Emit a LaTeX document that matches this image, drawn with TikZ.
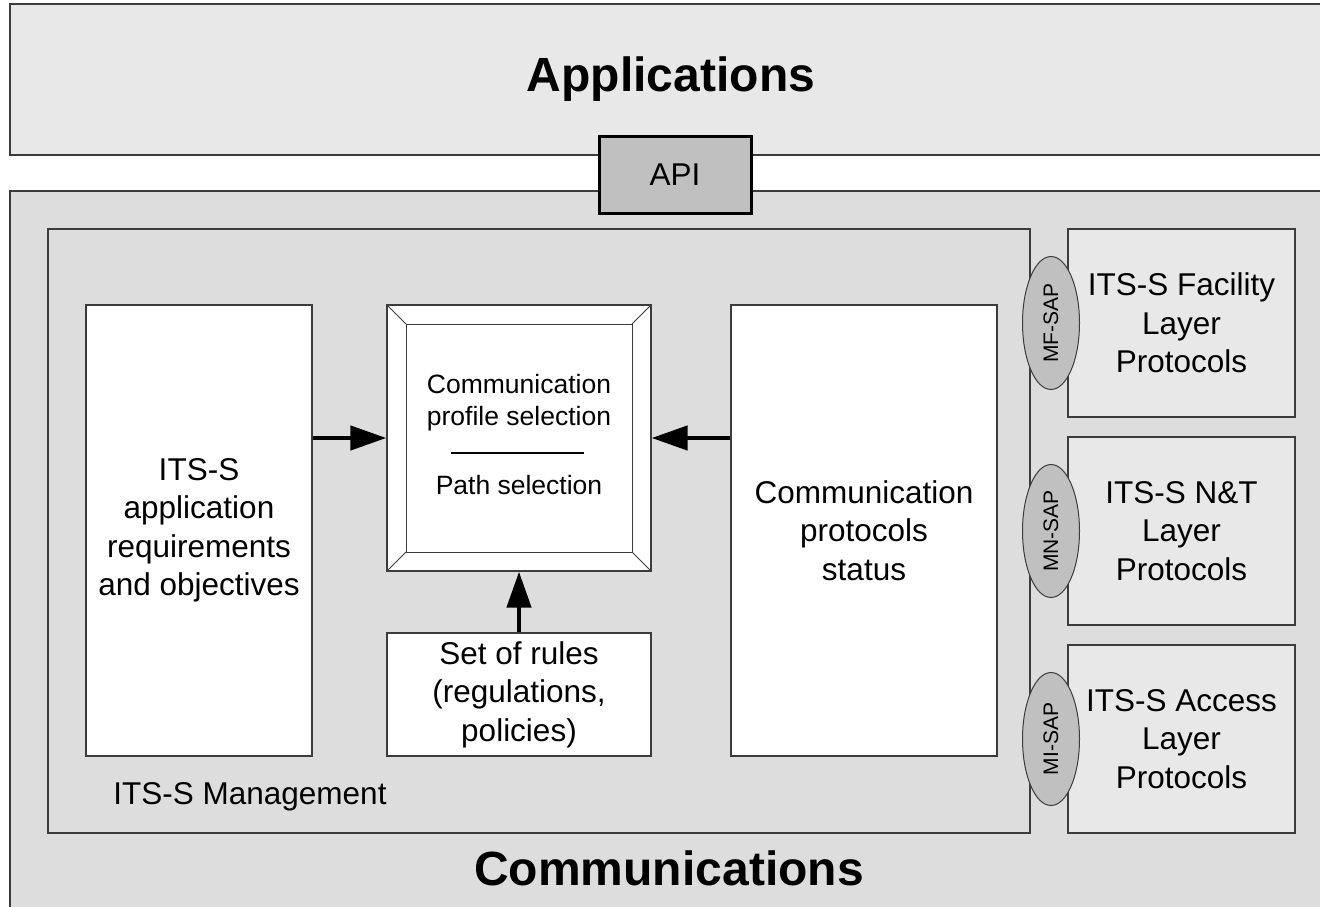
\documentclass[tikz,border=0pt]{standalone}
\usepackage{fontspec}
\setmainfont{Liberation Sans}
\usetikzlibrary{arrows.meta,shapes.geometric}
\definecolor{appfill}{HTML}{E8E8E8}
\definecolor{comfill}{HTML}{DDDDDD}
\definecolor{apifill}{HTML}{C0C0C0}
\definecolor{edge}{HTML}{3C3C3C}
\tikzset{
  box/.style={draw=edge, line width=1.3pt, inner sep=0pt, align=center},
  whitebox/.style={box, fill=white},
  layerbox/.style={box, fill=appfill, minimum width=227pt, minimum height=188pt},
  sap/.style={ellipse, draw=edge, line width=1pt, fill=apifill, minimum width=57pt, minimum height=133pt, inner sep=0pt},
  txt/.style={font=\fontsize{31.5}{38.5}\selectfont, align=center, inner sep=0pt},
  small/.style={font=\fontsize{26.5}{32}\selectfont, align=center, inner sep=0pt},
  big/.style={font=\fontsize{48}{56}\selectfont\bfseries, inner sep=0pt},
  arr/.style={line width=4.5pt, -{Triangle[length=36pt,width=24pt]}, shorten <=0pt},
}
\begin{document}
\begin{tikzpicture}[x=1pt,y=-1pt]
\useasboundingbox (0,0) rectangle (1320,907);
\clip (0,0) rectangle (1320,907);
% outer layers
\draw[edge, line width=1.3pt, fill=appfill] (10,4) rectangle (1340,155);
\draw[edge, line width=1.3pt, fill=comfill] (10,191) rectangle (1340,930);
\node[big] (apptxt) at (671,79) {Applications};
\node[big] (comtxt) at (669,868) {Communications};
\node[box, draw=black, line width=3pt, fill=apifill, minimum width=152pt, minimum height=77pt, font=\fontsize{31.5}{38.5}\selectfont] (api) at (675,175) {API};
% management
\node[box, fill=comfill, minimum width=982pt, minimum height=604pt] (mgmt) at (539,531) {};
\node[txt] (mgmttxt) at (250,797) {ITS-S Management};
% inner boxes
\node[whitebox, minimum width=226pt, minimum height=451pt, txt] (req) at (199,530.5) {ITS-S\\application\\requirements\\and objectives};
\node[whitebox, minimum width=266pt, minimum height=451pt, txt] (status) at (864,530.5) {Communication\\protocols\\status};
\node[whitebox, minimum width=264pt, minimum height=123pt, txt] (rules) at (519,694.5) {Set of rules\\(regulations,\\policies)};
% bevelled selection box
\node[whitebox, minimum width=264pt, minimum height=266pt] (sel) at (519,438) {};
\coordinate (i1) at (406,324);
\coordinate (i2) at (632,324);
\coordinate (i3) at (632,552);
\coordinate (i4) at (406,552);
\draw[edge, line width=1pt] (i1) rectangle (i3);
\draw[edge, line width=1pt] (sel.north west) -- (i1) (sel.north east) -- (i2) (sel.south east) -- (i3) (sel.south west) -- (i4);
\node[small] (cps) at (519,403) {Communication\\profile selection};
\node[small] (ps) at (519,485) {Path selection};
\draw[black, line width=1.2pt] (451,453) -- (584,453);
% arrows
\draw[arr] (req.east |- sel.west) -- (sel.west);
\draw[arr] (status.west |- sel.east) -- (sel.east);
\draw[arr] (rules.north) -- (sel.south);
% layer protocol boxes
\node[layerbox, txt] (fac) at (1181.5,323) {ITS-S Facility\\Layer\\Protocols};
\node[layerbox, txt] (nt) at (1181.5,531) {ITS-S N\&T\\Layer\\Protocols};
\node[layerbox, txt] (acc) at (1181.5,739) {ITS-S Access\\Layer\\Protocols};
\node[sap] (mf) at (1051,323) {};
\node[sap] (mn) at (1051,531) {};
\node[sap] (mi) at (1051,739) {};
\node[rotate=90, font=\fontsize{21}{24}\selectfont, inner sep=0pt] (mft) at (mf) {MF-SAP};
\node[rotate=90, font=\fontsize{21}{24}\selectfont, inner sep=0pt] (mnt) at (mn) {MN-SAP};
\node[rotate=90, font=\fontsize{21}{24}\selectfont, inner sep=0pt] (mit) at (mi) {MI-SAP};
\end{tikzpicture}
\end{document}
